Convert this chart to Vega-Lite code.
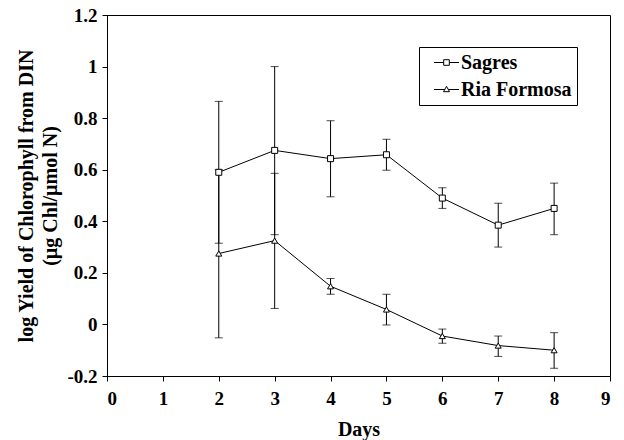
{
  "$schema": "https://vega.github.io/schema/vega-lite/v6.json",
  "autosize": {"type": "none"},
  "width": 503,
  "height": 361,
  "padding": {"left": 107, "top": 15, "right": 14, "bottom": 64},
  "background": "white",
  "config": {
    "view": {"stroke": "black", "strokeWidth": 1},
    "font": "Liberation Serif",
    "axis": {
      "grid": false,
      "domainColor": "black",
      "tickColor": "black",
      "labelColor": "black",
      "titleColor": "black",
      "labelFont": "Liberation Serif",
      "titleFont": "Liberation Serif",
      "labelFontWeight": "bold",
      "titleFontWeight": "bold",
      "labelFontSize": 19,
      "titleFontSize": 20,
      "tickSize": 5
    }
  },
  "data": {
    "values": [
      {"day": 2, "site": "Sagres", "value": 0.59, "lo": 0.315, "hi": 0.865},
      {"day": 3, "site": "Sagres", "value": 0.675, "lo": 0.348, "hi": 1.0},
      {"day": 4, "site": "Sagres", "value": 0.643, "lo": 0.495, "hi": 0.79},
      {"day": 5, "site": "Sagres", "value": 0.658, "lo": 0.598, "hi": 0.718},
      {"day": 6, "site": "Sagres", "value": 0.49, "lo": 0.45, "hi": 0.53},
      {"day": 7, "site": "Sagres", "value": 0.385, "lo": 0.3, "hi": 0.47},
      {"day": 8, "site": "Sagres", "value": 0.45, "lo": 0.348, "hi": 0.548},
      {"day": 2, "site": "Ria Formosa", "value": 0.275, "lo": -0.052, "hi": 0.6},
      {"day": 3, "site": "Ria Formosa", "value": 0.325, "lo": 0.062, "hi": 0.586},
      {"day": 4, "site": "Ria Formosa", "value": 0.148, "lo": 0.117, "hi": 0.178},
      {"day": 5, "site": "Ria Formosa", "value": 0.058, "lo": -0.002, "hi": 0.117},
      {"day": 6, "site": "Ria Formosa", "value": -0.045, "lo": -0.073, "hi": -0.018},
      {"day": 7, "site": "Ria Formosa", "value": -0.082, "lo": -0.124, "hi": -0.045},
      {"day": 8, "site": "Ria Formosa", "value": -0.1, "lo": -0.17, "hi": -0.032}
    ]
  },
  "encoding": {
    "x": {
      "field": "day", "type": "quantitative",
      "scale": {"domain": [0, 9], "nice": false},
      "axis": {"values": [0,1,2,3,4,5,6,7,8,9], "title": "Days", "titlePadding": 11, "labelPadding": 8}
    }
  },
  "layer": [
    {
      "mark": {"type": "rule", "color": "black", "strokeWidth": 1},
      "encoding": {
        "y": {
          "field": "lo", "type": "quantitative",
          "scale": {"domain": [-0.2, 1.2], "nice": false, "zero": false},
          "axis": {
            "values": [-0.2, 0, 0.2, 0.4, 0.6, 0.8, 1, 1.2],
            "labelExpr": "datum.value < 0 ? '-' + format(-datum.value, '.1~f') : format(datum.value, '.1~f')",
            "title": ["log Yield of Chlorophyll from DIN", "(µg Chl/µmol N)"],
            "titleLineHeight": 24,
            "titlePadding": 6,
            "labelPadding": 5
          }
        },
        "y2": {"field": "hi"}
      }
    },
    {
      "mark": {"type": "tick", "color": "black", "orient": "horizontal", "size": 8, "thickness": 1},
      "encoding": {"y": {"field": "lo", "type": "quantitative"}}
    },
    {
      "mark": {"type": "tick", "color": "black", "orient": "horizontal", "size": 8, "thickness": 1},
      "encoding": {"y": {"field": "hi", "type": "quantitative"}}
    },
    {
      "mark": {"type": "line", "color": "black", "strokeWidth": 1},
      "encoding": {
        "y": {"field": "value", "type": "quantitative"},
        "detail": {"field": "site"}
      }
    },
    {
      "mark": {"type": "point", "filled": false, "fill": "white", "fillOpacity": 1, "stroke": "black", "strokeWidth": 1, "opacity": 1, "size": 36},
      "encoding": {
        "y": {"field": "value", "type": "quantitative"},
        "shape": {
          "field": "site", "type": "nominal",
          "scale": {"domain": ["Sagres", "Ria Formosa"], "range": ["square", "triangle-up"]},
          "legend": null
        }
      }
    },
    {
      "mark": {"type": "point", "filled": false, "opacity": 0, "size": 1},
      "encoding": {
        "y": {"field": "value", "type": "quantitative"},
        "shape": {
          "field": "site", "type": "nominal",
          "scale": {"domain": ["Sagres", "Ria Formosa"], "range": ["M-1.25,0H-0.28M0.28,0H1.25M-0.28,-0.28H0.28V0.28H-0.28Z", "M-1.25,0H-0.17M0.17,0H1.25M0,-0.32L0.3,0.22H-0.3Z"]},
          "legend": {
            "title": null,
            "orient": "none",
            "legendX": 312,
            "legendY": 32,
            "padding": 5,
            "strokeColor": "black",
            "fillColor": "white",
            "labelFont": "Liberation Serif",
            "labelFontWeight": "bold",
            "labelFontSize": 20,
            "labelColor": "black",
            "labelOffset": 4,
            "rowPadding": 6,
            "symbolOffset": 12,
            "symbolSize": 400,
            "symbolOpacity": 1,
            "symbolFillColor": "white",
            "symbolStrokeColor": "black",
            "symbolStrokeWidth": 1
          }
        }
      }
    }
  ],
  "resolve": {"scale": {"shape": "independent"}, "legend": {"shape": "independent"}}
}
